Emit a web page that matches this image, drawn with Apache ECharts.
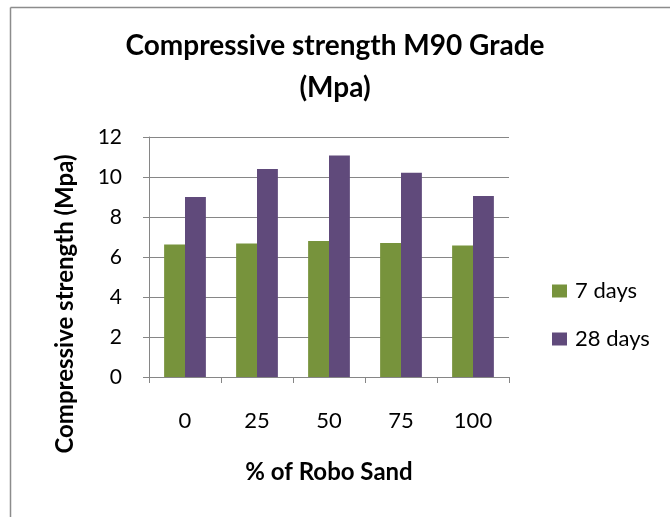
<!DOCTYPE html>
<html>
<head>
<meta charset="utf-8">
<script src="https://cdn.jsdelivr.net/npm/echarts@6/dist/echarts.min.js"></script>
<style>
  html, body { margin: 0; padding: 0; background: #fff; }
  #chart { width: 670px; height: 517px; }
</style>
</head>
<body>
<div id="chart"></div>
<script>
// Compressive strength of M90 grade concrete vs. robo sand replacement
const categories = ['0', '25', '50', '75', '100'];
const days7 = [6.63, 6.67, 6.8, 6.7, 6.57];
const days28 = [9.0, 10.4, 11.08, 10.21, 9.05];
const seriesNames = ['7 days', '28 days'];
const yTicks = { min: 0, max: 12, step: 2 };

const FONT = 'Lato, "Liberation Sans", sans-serif';
const AXIS_GREY = '#868686';
const FRAME_GREY = '#8c8c8c';

const chart = echarts.init(document.getElementById('chart'), null, { renderer: 'canvas' });

chart.setOption({
  animation: false,
  backgroundColor: '#ffffff',
  title: {
    text: 'Compressive strength M90 Grade\n(Mpa)',
    left: 'center',
    top: 20,
    textStyle: {
      fontFamily: FONT,
      fontSize: 28,
      fontWeight: 'bold',
      color: '#000',
      lineHeight: 42
    }
  },
  graphic: [
    // chart-area frame (top and left edges)
    { type: 'line', silent: true, shape: { x1: 10.5, y1: 7.5, x2: 670, y2: 7.5 }, style: { stroke: FRAME_GREY, lineWidth: 1.5 } },
    { type: 'line', silent: true, shape: { x1: 10.5, y1: 7.5, x2: 10.5, y2: 517 }, style: { stroke: FRAME_GREY, lineWidth: 1.5 } },
    // vertical axis title
    {
      type: 'text',
      silent: true,
      x: 65,
      y: 304,
      rotation: Math.PI / 2,
      style: {
        text: 'Compressive strength (Mpa)',
        fontFamily: FONT,
        fontSize: 24,
        fontWeight: 'bold',
        fill: '#000',
        align: 'center',
        verticalAlign: 'middle'
      }
    }
  ],
  legend: {
    orient: 'vertical',
    left: 547,
    top: 275,
    itemWidth: 15,
    itemHeight: 13,
    itemGap: 26,
    icon: 'rect',
    data: seriesNames,
    textStyle: { fontFamily: FONT, fontSize: 22, color: '#000', padding: [0, 0, 0, 3] }
  },
  grid: { left: 149, right: 161, top: 137, bottom: 140, containLabel: false },
  xAxis: {
    type: 'category',
    data: categories,
    name: '% of Robo Sand',
    nameLocation: 'middle',
    nameGap: 83,
    nameTextStyle: { fontFamily: FONT, fontSize: 24, fontWeight: 'bold', color: '#000' },
    axisLine: { lineStyle: { color: AXIS_GREY, width: 1 } },
    axisTick: { show: true, alignWithLabel: false, length: 6, lineStyle: { color: AXIS_GREY } },
    axisLabel: { fontFamily: FONT, fontSize: 22, color: '#000', margin: 33 }
  },
  yAxis: {
    type: 'value',
    min: yTicks.min,
    max: yTicks.max,
    interval: yTicks.step,
    axisLine: { show: true, lineStyle: { color: AXIS_GREY, width: 1 } },
    axisTick: { show: true, length: 6, lineStyle: { color: AXIS_GREY } },
    axisLabel: { fontFamily: FONT, fontSize: 21, color: '#000', margin: 27 },
    splitLine: { show: true, lineStyle: { color: AXIS_GREY, width: 1 } }
  },
  series: [
    {
      name: seriesNames[0],
      type: 'bar',
      data: days7,
      barGap: '0%',
      barCategoryGap: '42%',
      itemStyle: { color: '#77933c' }
    },
    {
      name: seriesNames[1],
      type: 'bar',
      data: days28,
      barGap: '0%',
      barCategoryGap: '42%',
      itemStyle: { color: '#604a7b' }
    }
  ]
});
</script>
</body>
</html>
